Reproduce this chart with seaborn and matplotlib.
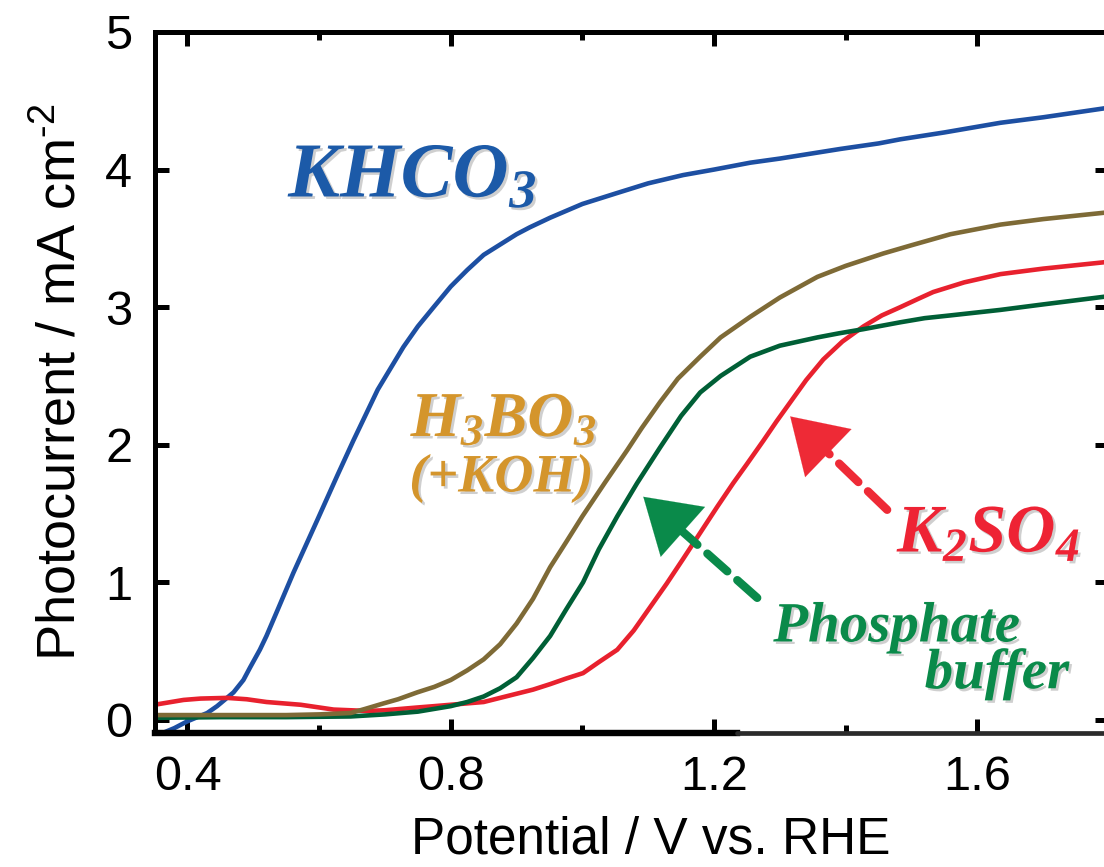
import numpy as np
import pandas as pd
import matplotlib
matplotlib.use("Agg")
import matplotlib.pyplot as plt
import matplotlib.patheffects as pe
from matplotlib.ticker import FixedLocator
import seaborn as sns

# ---------------- data ----------------
khco3_v = [0.36, 0.38, 0.40, 0.43, 0.445, 0.46, 0.47, 0.485, 0.495, 0.51, 0.52,
           0.537, 0.561, 0.597, 0.628, 0.652, 0.689, 0.728, 0.75, 0.774, 0.80,
           0.825, 0.85, 0.88, 0.90, 0.92, 0.951, 1.0, 1.053, 1.10, 1.153, 1.20,
           1.255, 1.30, 1.392, 1.45, 1.483, 1.55, 1.635, 1.70, 1.80]
khco3_j = [-0.10, -0.06, -0.01, 0.05, 0.10, 0.16, 0.20, 0.29, 0.38, 0.51, 0.61,
           0.80, 1.07, 1.45, 1.78, 2.03, 2.40, 2.71, 2.86, 3.00, 3.15,
           3.27, 3.38, 3.47, 3.53, 3.58, 3.65, 3.75, 3.83, 3.90, 3.96, 4.00,
           4.05, 4.08, 4.15, 4.19, 4.22, 4.27, 4.34, 4.38, 4.45]

h3bo3_v = [0.35, 0.45, 0.55, 0.60, 0.648, 0.67, 0.698, 0.72, 0.749, 0.775, 0.80,
           0.825, 0.85, 0.875, 0.90, 0.925, 0.951, 0.975, 1.0, 1.035, 1.068,
           1.09, 1.118, 1.145, 1.179, 1.21, 1.255, 1.30, 1.357, 1.40, 1.457,
           1.50, 1.559, 1.635, 1.70, 1.80]
h3bo3_j = [0.035, 0.035, 0.035, 0.04, 0.05, 0.08, 0.12, 0.15, 0.20, 0.24, 0.29,
           0.36, 0.44, 0.55, 0.70, 0.88, 1.11, 1.29, 1.48, 1.73, 1.96,
           2.12, 2.31, 2.48, 2.64, 2.78, 2.93, 3.07, 3.22, 3.30, 3.39,
           3.45, 3.53, 3.60, 3.64, 3.69]

phos_v = [0.35, 0.45, 0.55, 0.648, 0.70, 0.75, 0.775, 0.80, 0.825, 0.85, 0.875,
          0.90, 0.925, 0.951, 0.975, 1.001, 1.025, 1.053, 1.083, 1.118, 1.15,
          1.179, 1.21, 1.255, 1.30, 1.357, 1.39, 1.427, 1.483, 1.52, 1.559,
          1.635, 1.70, 1.80]
phos_j = [0.015, 0.02, 0.02, 0.025, 0.04, 0.06, 0.08, 0.10, 0.13, 0.17, 0.23,
          0.31, 0.45, 0.61, 0.80, 1.00, 1.24, 1.48, 1.72, 1.98, 2.21,
          2.38, 2.50, 2.64, 2.72, 2.78, 2.81, 2.84, 2.89, 2.92, 2.94,
          2.98, 3.02, 3.08]

k2so4_v = [0.35, 0.394, 0.42, 0.46, 0.49, 0.52, 0.572, 0.622, 0.673, 0.70, 0.749,
           0.775, 0.80, 0.85, 0.90, 0.925, 0.951, 0.975, 1.001, 1.025, 1.053,
           1.078, 1.103, 1.128, 1.153, 1.179, 1.205, 1.229, 1.25, 1.275, 1.295,
           1.316, 1.34, 1.366, 1.395, 1.427, 1.455, 1.483, 1.51, 1.533, 1.58,
           1.635, 1.70, 1.80]
k2so4_j = [0.11, 0.145, 0.155, 0.16, 0.15, 0.13, 0.11, 0.075, 0.065, 0.07, 0.09,
           0.10, 0.11, 0.13, 0.19, 0.22, 0.26, 0.30, 0.34, 0.42, 0.51,
           0.65, 0.82, 0.99, 1.17, 1.36, 1.55, 1.72, 1.86, 2.03, 2.17,
           2.31, 2.47, 2.62, 2.75, 2.86, 2.94, 3.00, 3.06, 3.11, 3.18,
           3.24, 3.28, 3.33]

series_names = ["KHCO3", "K2SO4", "Phosphate buffer", "H3BO3 (+KOH)"]
series_v = [khco3_v, k2so4_v, phos_v, h3bo3_v]
series_j = [khco3_j, k2so4_j, phos_j, h3bo3_j]
line_colors = ["#1d4fa2", "#e8212e", "#005f36", "#7e6a36"]

x_ticks = [0.4, 0.8, 1.2, 1.6]
x_tick_labels = ["0.4", "0.8", "1.2", "1.6"]
x_minor = [0.6, 1.0, 1.4]
y_ticks = [0, 1, 2, 3, 4, 5]
y_tick_labels = ["0", "1", "2", "3", "4", "5"]

# ---------------- style ----------------
sns.set_style("ticks")
plt.rcParams["font.family"] = ["Liberation Sans", "DejaVu Sans"]
plt.rcParams["mathtext.fontset"] = "custom"
plt.rcParams["mathtext.rm"] = "Liberation Sans"
plt.rcParams["mathtext.bf"] = "Liberation Serif:italic:bold"
for key in ["text.color", "axes.labelcolor", "xtick.color", "ytick.color",
            "xtick.labelcolor", "ytick.labelcolor"]:
    plt.rcParams[key] = "black"

df = pd.concat([pd.DataFrame({"V": v, "J": j, "electrolyte": n})
                for n, v, j in zip(series_names, series_v, series_j)],
               ignore_index=True)
palette = dict(zip(series_names, line_colors))

fig = plt.figure(figsize=(11.04, 8.67), dpi=100)
ax = fig.add_axes([0.14, 0.1546, 0.8645, 0.8085])

sns.lineplot(data=df, x="V", y="J", hue="electrolyte", hue_order=series_names,
             palette=palette, estimator=None, sort=False, linewidth=3.3,
             legend=False, ax=ax)
for ln in ax.lines:
    ln.set_solid_joinstyle("round")
    ln.set_solid_capstyle("round")

ax.set_xlim(0.35, 1.8)
ax.set_ylim(-0.095, 5.0)

ax.xaxis.set_major_locator(FixedLocator(x_ticks))
ax.set_xticklabels(x_tick_labels)
ax.xaxis.set_minor_locator(FixedLocator(x_minor))
ax.yaxis.set_major_locator(FixedLocator(y_ticks))
ax.set_yticklabels(y_tick_labels)

ax.tick_params(which="both", direction="in", top=True, right=True, color="black",
               labelcolor="black")
ax.tick_params(which="major", length=10, width=3.6, labelsize=35, pad=16)
ax.tick_params(which="minor", length=5.5, width=3.6)

for s in ["left", "top", "right"]:
    ax.spines[s].set_linewidth(3.6)
    ax.spines[s].set_color("black")
ax.spines["bottom"].set_linewidth(4.6)
ax.spines["bottom"].set_color("black")
ax.spines["bottom"].set_bounds(0.35, 1.235)
ax.axhline(-0.095, xmin=(1.235 - 0.35) / 1.45, xmax=1.0, color="#2b2b2b",
           lw=3.4, clip_on=False, zorder=3)

ax.set_xlabel("Potential / V vs. RHE", fontsize=37, color="black")
ax.set_ylabel(r"Photocurrent / mA cm$^{\text{-2}}$", fontsize=39, color="black",
              labelpad=14)
ax.xaxis.set_label_coords(0.52, -0.118, transform=ax.transAxes)

# ---------------- annotations ----------------
shadow = [pe.withSimplePatchShadow(offset=(1.8, -1.8), shadow_rgbFace="#777777", alpha=0.35)]
serif = dict(family="Liberation Serif", weight="bold", style="italic")

ax.text(0.553, 3.80, r"$\mathbf{KHCO_3}$", fontsize=56, color="#1c5aa8",
        ha="left", va="baseline", path_effects=shadow)
ax.text(0.739, 2.06, r"$\mathbf{H_3BO_3}$", fontsize=46, color="#d4952c",
        ha="left", va="baseline", path_effects=shadow)
ax.text(0.737, 1.66, "(+KOH)", fontsize=39, color="#d4952c",
        ha="left", va="baseline", path_effects=shadow, **serif)
ax.text(1.478, 1.22, r"$\mathbf{K_2SO_4}$", fontsize=49, color="#ee2334",
        ha="left", va="baseline", path_effects=shadow)
ax.text(1.29, 0.57, "Phosphate", fontsize=41, color="#0a8a4a",
        ha="left", va="baseline", path_effects=shadow, **serif)
ax.text(1.52, 0.23, "buffer", fontsize=41, color="#0a8a4a",
        ha="left", va="baseline", path_effects=shadow, **serif)

# dashed arrows
for tip, tail, col in [((1.0925, 1.622), (1.2656, 0.887), "#0a8a4a"),
                       ((1.3157, 2.206), (1.463, 1.527), "#ee2a36")]:
    ax.annotate("", xy=tip, xytext=tail,
                arrowprops=dict(arrowstyle="-", lw=6, color=col,
                                linestyle=(0, (3.2, 1.6)), shrinkA=0, shrinkB=22))
    ax.annotate("", xy=tip, xytext=((tip[0] * 3 + tail[0]) / 4, (tip[1] * 3 + tail[1]) / 4),
                arrowprops=dict(arrowstyle="-|>,head_length=0.95,head_width=0.6",
                                lw=0.1, color=col, mutation_scale=40,
                                shrinkA=0, shrinkB=0))

fig.savefig("out.png", dpi=100)
